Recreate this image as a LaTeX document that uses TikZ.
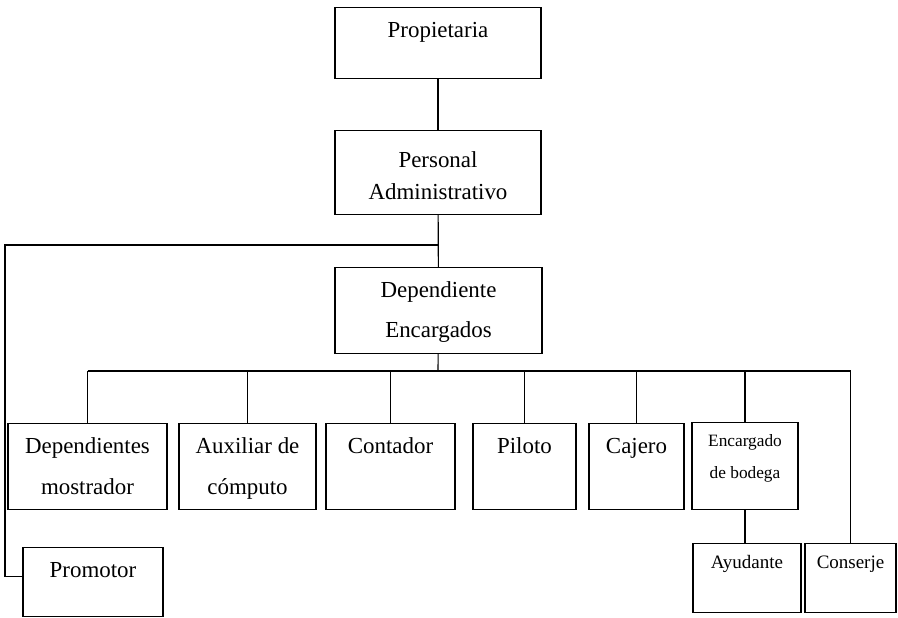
\documentclass[tikz,border=0pt]{standalone}
\usepackage{fontspec}
\setmainfont{Liberation Serif}
\usepackage{tikz}
\usetikzlibrary{positioning,calc}
\newcommand{\letragrande}{\fontsize{16.3}{29}\selectfont}
\newcommand{\letramedia}{\fontsize{13.5}{22}\selectfont}
\newcommand{\letrachica}{\fontsize{12.3}{22.8}\selectfont}
\tikzstyle{caja}=[draw, rectangle, anchor=north, inner sep=0pt, align=center, line width=0.8pt, font=\letragrande]
\tikzstyle{linea}=[-, line width=0.8pt]

\begin{document}
\begin{tikzpicture}[x=0.025cm, y=-0.025cm]
\useasboundingbox (0,0) rectangle (898,617);

% direccion
\node[caja, minimum width=206*0.025cm, text height=0.75cm, text depth=1.025cm] (prop) at (438,7) {Propietaria};
\node[caja, minimum width=206*0.025cm, text height=1.725cm, text depth=0.375cm, font=\fontsize{16.3}{22.8}\selectfont] (admin) at (438,130) {Personal\\Administrativo};
\node[caja, minimum width=207*0.025cm, text height=1.75cm, text depth=0.4cm, font=\fontsize{16.3}{28.5}\selectfont] (dep) at (438.5,267) {Dependiente\\Encargados};

% puestos
\node[caja, minimum width=159*0.025cm, text height=1.775cm, text depth=0.375cm] (mostrador) at (87.5,423) {Dependientes\\mostrador};
\node[caja, minimum width=137*0.025cm, text height=1.775cm, text depth=0.375cm] (computo) at (247.5,423) {Auxiliar de\\cómputo};
\node[caja, minimum width=129*0.025cm, text height=0.75cm, text depth=1.4cm] (contador) at (390.5,423) {Contador};
\node[caja, minimum width=103*0.025cm, text height=0.75cm, text depth=1.4cm] (piloto) at (524.5,423) {Piloto};
\node[caja, minimum width=95*0.025cm, text height=0.75cm, text depth=1.4cm] (cajero) at (636.5,423) {Cajero};
\node[caja, minimum width=106*0.025cm, text height=1.4cm, text depth=0.775cm, font=\letrachica] (bodega) at (745,422) {Encargado\\de bodega};

% abajo
\node[caja, minimum width=108*0.025cm, text height=0.625cm, text depth=1.1cm, font=\letramedia] (ayudante) at (747,543) {Ayudante};
\node[caja, minimum width=91*0.025cm, text height=0.625cm, text depth=1.1cm, font=\letramedia] (conserje) at (850.5,543) {Conserje};
\node[caja, minimum width=140*0.025cm, text height=0.75cm, text depth=0.975cm] (promotor) at (93,547) {Promotor};

% lineas
\coordinate (rama) at (438,245);
\coordinate (izq) at (5,245);
\coordinate (bus) at (438,371);
\draw[linea] (prop) -- (admin);
\draw[linea] (admin) -- (dep);
\draw[linea] (rama) -- (izq) |- ($(promotor.west)+(0,-6)$);
\draw[linea] (dep) -- (bus);
\draw[linea] (mostrador.north |- bus) -- (conserje.north |- bus);
\foreach \p in {mostrador,computo,contador,piloto,cajero,bodega,conserje}
    \draw[linea] (\p.north |- bus) -- (\p.north);
\draw[linea] (bodega.south) -- (bodega.south |- ayudante.north);

\end{tikzpicture}
\end{document}
